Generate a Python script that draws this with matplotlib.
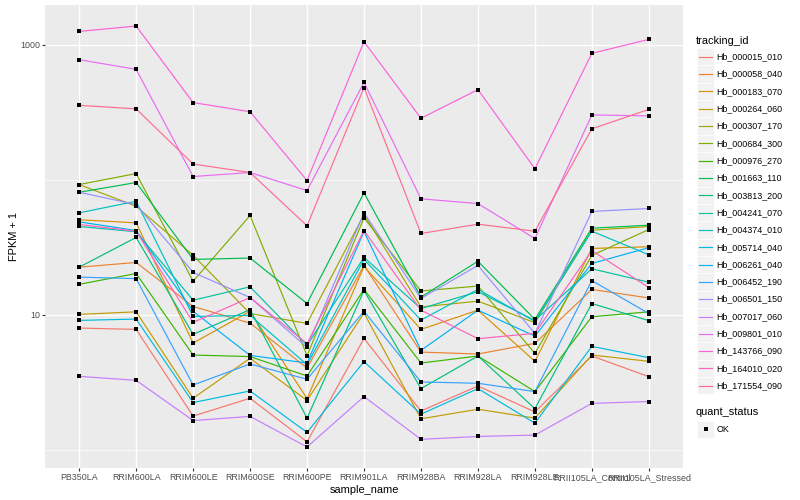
import numpy as np
import matplotlib
matplotlib.use('Agg')
import matplotlib.pyplot as plt
from matplotlib.patches import Rectangle
from matplotlib.lines import Line2D

plt.rcParams['font.family'] = ['Liberation Sans', 'DejaVu Sans']

# samples on the x axis
samples = ['PB350LA', 'RRIM600LA', 'RRIM600LE', 'RRIM600SE', 'RRIM600PE', 'RRIM901LA',
           'RRIM928BA', 'RRIM928LA', 'RRIM928LE', 'RRII105LA_Control', 'RRII105LA_Stressed']

# FPKM + 1 per gene
Hb_000015_010 = [7.96, 7.78, 1.77, 2.40, 1.14, 6.67, 1.93, 2.96, 1.90, 4.94, 3.47]
Hb_000058_040 = [22.5, 24.4, 11.5, 8.66, 4.02, 23.2, 5.28, 5.11, 6.13, 15.4, 13.3]
Hb_000183_070 = [50.6, 48.0, 6.16, 10.6, 2.39, 22.8, 7.78, 10.8, 4.51, 31.0, 31.9]
Hb_000264_060 = [10.05, 10.5, 2.40, 4.75, 2.31, 10.3, 1.69, 1.99, 1.71, 5.02, 4.51]
Hb_000307_170 = [92.3, 63.7, 27.6, 10.2, 8.62, 55.3, 11.4, 12.6, 8.72, 42.3, 45.1]
Hb_000684_300 = [92.3, 111.3, 17.7, 54.4, 4.97, 52.3, 15.0, 16.3, 5.17, 27.5, 42.8]
Hb_000976_270 = [16.8, 20.2, 5.02, 4.89, 3.51, 15.4, 4.38, 4.94, 2.69, 9.66, 10.5]
Hb_001663_110 = [80.9, 95.5, 25.7, 26.3, 12.1, 80.1, 13.5, 24.9, 9.23, 43.8, 46.1]
Hb_003813_200 = [22.5, 37.4, 7.15, 10.9, 1.71, 15.1, 2.83, 4.94, 2.01, 12.1, 9.03]
Hb_004241_070 = [45.1, 41.2, 12.8, 16.1, 5.92, 26.6, 11.1, 14.8, 9.07, 21.9, 17.4]
Hb_004374_010 = [56.9, 69.4, 9.71, 9.88, 4.26, 25.7, 9.12, 15.4, 8.92, 41.6, 27.8]
Hb_005714_040 = [9.07, 9.28, 2.23, 2.72, 1.34, 4.49, 1.83, 2.83, 1.57, 5.82, 4.80]
Hb_006261_040 = [48.8, 42.1, 10.6, 4.99, 4.38, 41.4, 5.44, 10.8, 6.94, 24.0, 31.4]
Hb_006452_190 = [19.0, 18.5, 3.01, 4.31, 3.32, 10.6, 3.17, 3.10, 2.69, 17.9, 10.2]
Hb_006501_150 = [80.9, 65.6, 20.6, 13.4, 5.72, 56.9, 13.2, 23.2, 7.27, 58.3, 61.3]
Hb_007017_060 = [3.49, 3.26, 1.64, 1.76, 1.045, 2.47, 1.19, 1.25, 1.28, 2.20, 2.27]
Hb_009801_010 = [778, 660, 105.8, 113.3, 83.3, 528, 72.3, 66.7, 36.7, 303, 298]
Hb_143766_090 = [1261, 1382, 374, 320, 98.8, 1058, 286, 467, 121, 867, 1100]
Hb_164010_020 = [46.7, 41.6, 8.77, 13.4, 6.10, 42.1, 10.8, 6.64, 7.27, 29.9, 15.9]
Hb_171554_090 = [357, 336, 131, 113.3, 45.6, 483, 40.0, 46.9, 41.6, 239, 333]

tracking_ids = ['Hb_000015_010', 'Hb_000058_040', 'Hb_000183_070', 'Hb_000264_060',
                'Hb_000307_170', 'Hb_000684_300', 'Hb_000976_270', 'Hb_001663_110',
                'Hb_003813_200', 'Hb_004241_070', 'Hb_004374_010', 'Hb_005714_040',
                'Hb_006261_040', 'Hb_006452_190', 'Hb_006501_150', 'Hb_007017_060',
                'Hb_009801_010', 'Hb_143766_090', 'Hb_164010_020', 'Hb_171554_090']
series = [Hb_000015_010, Hb_000058_040, Hb_000183_070, Hb_000264_060, Hb_000307_170,
          Hb_000684_300, Hb_000976_270, Hb_001663_110, Hb_003813_200, Hb_004241_070,
          Hb_004374_010, Hb_005714_040, Hb_006261_040, Hb_006452_190, Hb_006501_150,
          Hb_007017_060, Hb_009801_010, Hb_143766_090, Hb_164010_020, Hb_171554_090]

# ggplot default hue palette for 20 levels
colors = ['#F8766D', '#EA8331', '#D89000', '#C09B00', '#A3A500', '#7CAE00', '#39B600',
          '#00BB4E', '#00BF7D', '#00C1A3', '#00BFC4', '#00BAE0', '#00B0F6', '#35A2FF',
          '#9590FF', '#C77CFF', '#E76BF3', '#FA62DB', '#FF62BC', '#FF6C91']

W, H = 800, 500
fig = plt.figure(figsize=(8, 5), dpi=100)
ax = fig.add_axes([45 / W, 1 - 468 / H, (683 - 45) / W, (468 - 5) / H])
ax.set_facecolor('#EBEBEB')

x = np.arange(1, len(samples) + 1)
for vals, col in zip(series, colors):
    ax.plot(x, vals, color=col, lw=0.85, zorder=3)
for vals in series:
    ax.plot(x, vals, 's', color='black', ms=3.0, zorder=4, markeredgewidth=0)

ax.set_yscale('log')
logs = np.log10(np.concatenate(series))
rng = logs.max() - logs.min()
ax.set_ylim(10 ** (logs.min() - 0.05 * rng), 10 ** (logs.max() + 0.05 * rng))
ax.set_xlim(0.4, len(samples) + 0.6)

ax.set_yticks([10, 1000])
ax.set_yticklabels(['10', '1000'])
ax.set_yticks([1, 100], minor=True)
ax.yaxis.set_minor_formatter(matplotlib.ticker.NullFormatter())
ax.set_xticks(x)
ax.set_xticklabels(samples)

ax.grid(which='major', color='white', lw=1.0, zorder=0)
ax.grid(which='minor', axis='y', color='white', lw=0.5, zorder=0)
ax.set_axisbelow(True)
for s in ax.spines.values():
    s.set_visible(False)
ax.tick_params(which='major', length=2.0, width=0.8, color='#333333', labelcolor='#4D4D4D',
               labelsize=6.4, pad=1.6)
ax.tick_params(which='minor', length=0)

ax.set_xlabel('sample_name', fontsize=7.9, labelpad=2)
ax.set_ylabel('FPKM + 1', fontsize=7.9, labelpad=1)

# legend (ggplot style)
def fx(px):
    return px / W

def fy(py):
    return 1 - py / H

fig.text(fx(696), fy(40.5), 'tracking_id', fontsize=7.9, va='center', ha='left')
row0, step = 56.7, 17.32
for i, (name, col) in enumerate(zip(tracking_ids, colors)):
    yc = row0 + i * step
    fig.add_artist(Rectangle((fx(697), fy(yc + step / 2)), 17 / W, step / H,
                             facecolor='#F2F2F2', edgecolor='white', lw=0.5,
                             transform=fig.transFigure))
    fig.add_artist(Line2D([fx(698.5), fx(712)], [fy(yc), fy(yc)], color=col, lw=0.85,
                          transform=fig.transFigure))
    fig.text(fx(716.5), fy(yc), name, fontsize=6.4, va='center', ha='left')

fig.text(fx(696), fy(412), 'quant_status', fontsize=7.9, va='center', ha='left')
fig.add_artist(Rectangle((fx(697), fy(429.3 + step / 2)), 17 / W, step / H,
                         facecolor='#F2F2F2', edgecolor='white', lw=0.5,
                         transform=fig.transFigure))
fig.add_artist(Line2D([fx(705.5)], [fy(429.3)], marker='s', color='black', ms=2.6,
                      markeredgewidth=0, transform=fig.transFigure))
fig.text(fx(716.5), fy(429.3), 'OK', fontsize=6.4, va='center', ha='left')

fig.savefig('out.png', dpi=100)
